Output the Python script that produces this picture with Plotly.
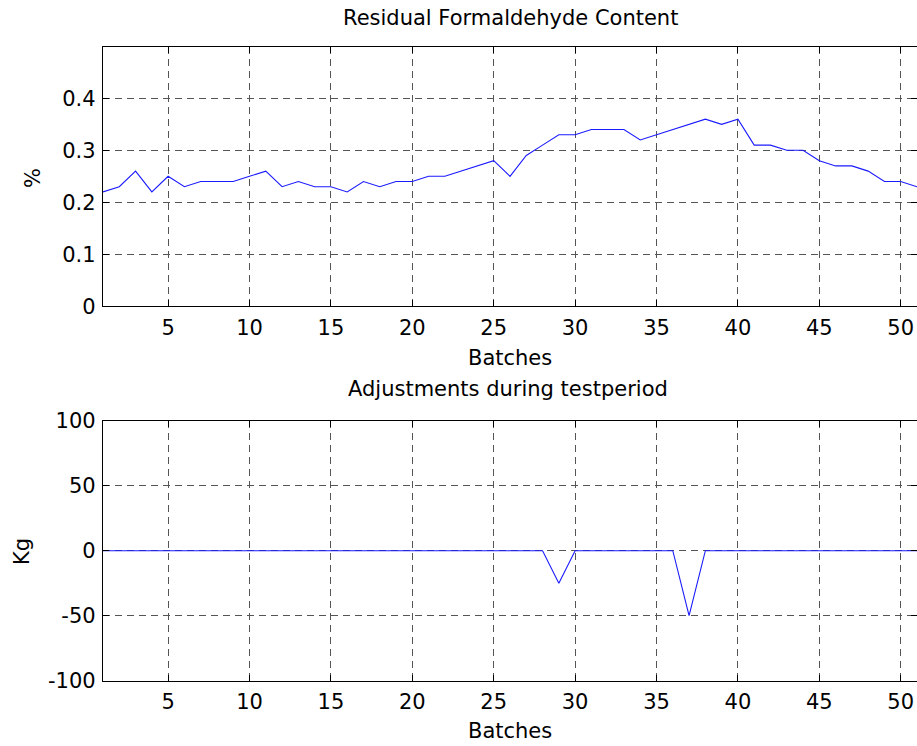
import plotly.graph_objects as go

batches = list(range(1, 52))
formaldehyde = [0.22, 0.23, 0.26, 0.22, 0.25, 0.23, 0.24, 0.24, 0.24, 0.25,
                0.26, 0.23, 0.24, 0.23, 0.23, 0.22, 0.24, 0.23, 0.24, 0.24,
                0.25, 0.25, 0.26, 0.27, 0.28, 0.25, 0.29, 0.31, 0.33, 0.33,
                0.34, 0.34, 0.34, 0.32, 0.33, 0.34, 0.35, 0.36, 0.35, 0.36,
                0.31, 0.31, 0.30, 0.30, 0.28, 0.27, 0.27, 0.26, 0.24, 0.24,
                0.23]
adjustments = [0] * 51
adjustments[28] = -25
adjustments[36] = -50

top_title = "Residual Formaldehyde Content"
bottom_title = "Adjustments during testperiod"
x_title = "Batches"
top_ytitle = "%"
bottom_ytitle = "Kg"
x_ticks = [5, 10, 15, 20, 25, 30, 35, 40, 45, 50]
top_yticks = [0, 0.1, 0.2, 0.3, 0.4]
top_yticklabels = ["0", "0.1", "0.2", "0.3", "0.4"]
bottom_yticks = [-100, -50, 0, 50, 100]
bottom_yticklabels = ["-100", "-50", "0", "50", "100"]

W, H = 917, 746
FONT = "DejaVu Sans"
FS = 21

def py(px):
    return 1 - px / H

fig = go.Figure()
fig.add_trace(go.Scatter(x=batches, y=formaldehyde, mode="lines",
                         line=dict(color="#1a1aff", width=1.1), xaxis="x", yaxis="y",
                         showlegend=False))
fig.add_trace(go.Scatter(x=batches, y=adjustments, mode="lines",
                         line=dict(color="#1a1aff", width=1.1), xaxis="x2", yaxis="y2",
                         showlegend=False))

x_dom = [103 / W, 1.0]
axis_common = dict(showline=True, linecolor="black", linewidth=1.3, mirror="ticks",
                   ticks="inside", ticklen=6, tickcolor="black", automargin=False,
                   showgrid=True, gridcolor="#555555", gridwidth=1, griddash="7px,5px",
                   zeroline=False, tickfont=dict(family=FONT, size=FS, color="black"))

fig.update_layout(
    width=W, height=H,
    margin=dict(l=0, r=0, t=0, b=0),
    paper_bgcolor="white", plot_bgcolor="white",
    font=dict(family=FONT, size=FS, color="black"),
    xaxis=dict(domain=x_dom, anchor="y", range=[1, 51], tickvals=x_ticks,
               ticklabelstandoff=2, **axis_common),
    yaxis=dict(domain=[py(306.3), py(47)], anchor="x", range=[0, 0.4987],
               tickvals=top_yticks, ticktext=top_yticklabels,
               ticklabelstandoff=2, **axis_common),
    xaxis2=dict(domain=x_dom, anchor="y2", range=[1, 51], tickvals=x_ticks,
                ticklabelstandoff=2, **axis_common),
    yaxis2=dict(domain=[py(680.7), py(420.7)], anchor="x2", range=[-100, 100],
                tickvals=bottom_yticks, ticktext=bottom_yticklabels,
                ticklabelstandoff=2, **axis_common),
)

annos = [
    (top_title, 510, 18.5, 0),
    (x_title, 510, 358, 0),
    (bottom_title, 508, 389, 0),
    (x_title, 510, 731, 0),
    (top_ytitle, 33, 178, -90),
    (bottom_ytitle, 22, 552, -90),
]
for text, x, y, ang in annos:
    fig.add_annotation(text=text, x=x / W, y=py(y), xref="paper", yref="paper",
                       xanchor="center", yanchor="middle", showarrow=False,
                       textangle=ang, font=dict(family=FONT, size=FS, color="black"))

fig.write_html("out.html")
